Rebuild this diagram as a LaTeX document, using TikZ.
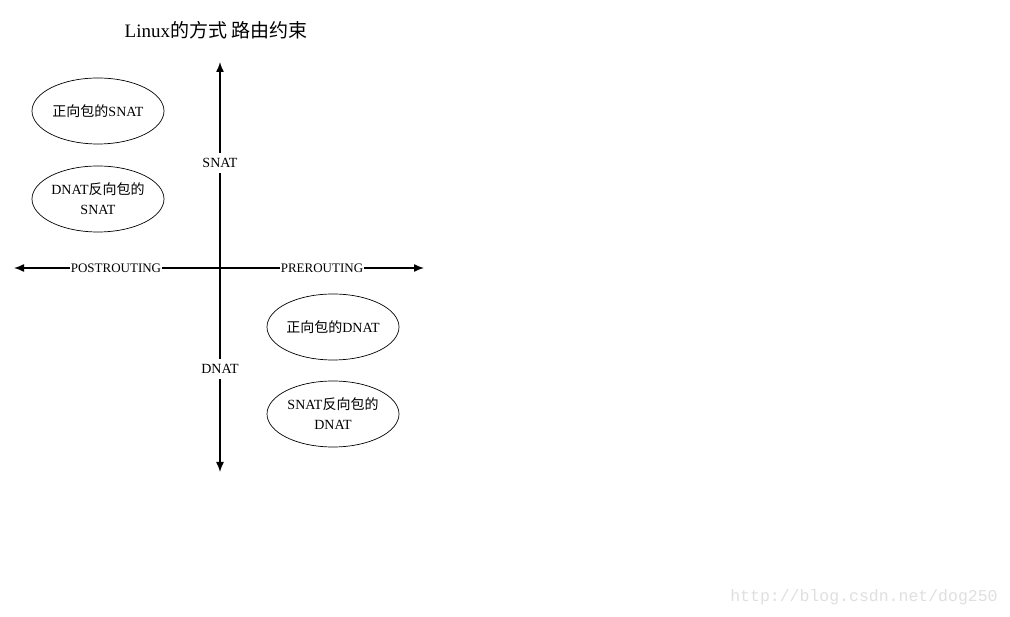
\documentclass[tikz,border=0pt]{standalone}
\usepackage{fontspec}
\setmainfont{Liberation Serif}
\newfontfamily\cjk{Noto Sans CJK SC}
\newfontfamily\wmfont{Liberation Mono}
\usetikzlibrary{shapes.geometric,arrows.meta}
\newcommand{\zh}[1]{{\cjk #1}}

\begin{document}
\begin{tikzpicture}[x=1pt,y=-1pt,>={Latex[length=10pt,width=8pt]},line join=round,
                    font=\fontsize{14}{20}\selectfont]
  \tikzset{
    axis/.style={<->,line width=1.4pt},
    axlbl/.style={fill=white,inner sep=0.5pt},
    rule/.style={ellipse,draw,line width=0.7pt,minimum width=132pt,minimum height=66pt,
                 inner sep=0pt,align=center},
  }
  \useasboundingbox (0,0) rectangle (1010,617);
% ================= axes =================
  \coordinate (o) at (220,268);
  \coordinate (n) at (220,62);
  \coordinate (s) at (220,472);
  \coordinate (w) at (14,268);
  \coordinate (e) at (424,268);
  \draw[axis] (s) -- (n);
  \draw[axis] (w) -- (e);
  \node[axlbl,inner ysep=5pt] (snat) at (220,163) {SNAT};
  \node[axlbl,inner ysep=5pt] (dnat) at (220,369) {DNAT};
  \node[axlbl] (post) at (116,268) {\fontsize{13}{20}\selectfont POSTROUTING};
  \node[axlbl] (pre)  at (322,268) {\fontsize{13}{20}\selectfont PREROUTING};
% ================= rules =================
  \node[rule] (fwdsnat) at (98,111)  {\zh{正向包的}SNAT};
  \node[rule] (revsnat) at (98,199)  {DNAT\zh{反向包的}\\SNAT};
  \node[rule] (fwddnat) at (333,327) {\zh{正向包的}DNAT};
  \node[rule] (revdnat) at (333,414) {SNAT\zh{反向包的}\\DNAT};
  % title and mark
  \node (title) at (216,30) {\fontsize{19}{22}\selectfont Linux\zh{的方式 路由约束}};
  \node[gray!25] (mark) at (864,597) {\wmfont\fontsize{16.5}{18}\selectfont http://blog.csdn.net/dog250};
\end{tikzpicture}
\end{document}
